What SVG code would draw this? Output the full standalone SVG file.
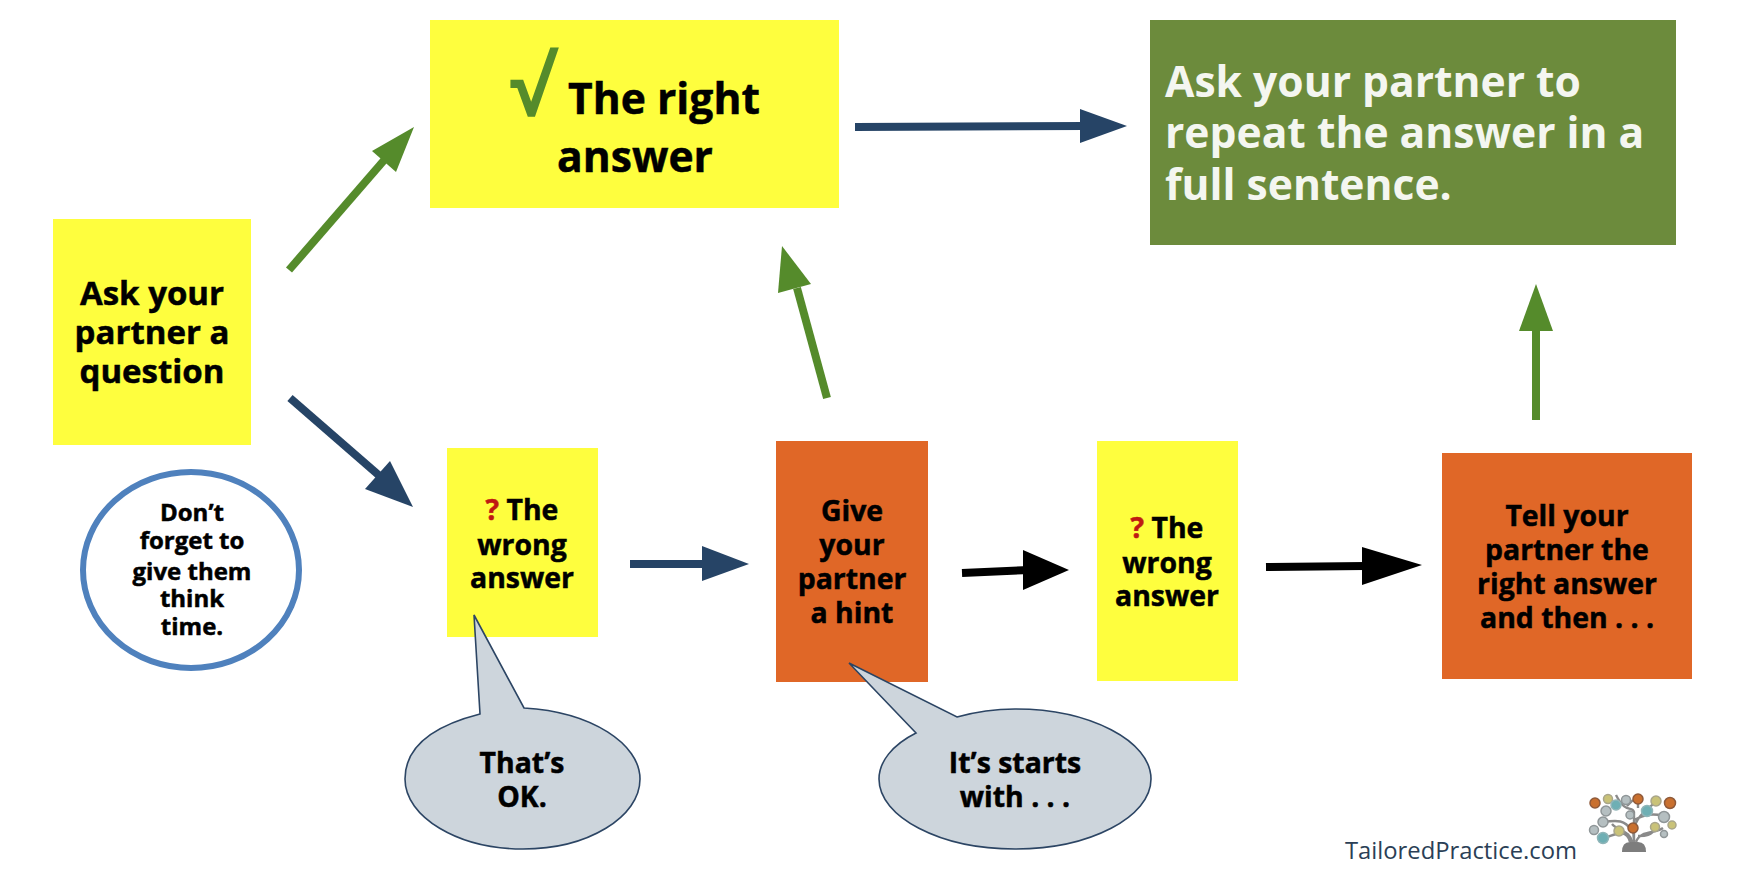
<svg xmlns="http://www.w3.org/2000/svg" width="1753" height="876" viewBox="0 0 1753 876">
<style>
text{font-family:"Open Sans","Noto Sans","DejaVu Sans",sans-serif;font-weight:700;text-anchor:middle;fill:#000}
.y{fill:#fefe3e}.o{fill:#e06727}.b{fill:#cdd5dc;stroke:#2c4564;stroke-width:1.6}
.t,.a,.m,.l{stroke:#000;stroke-width:.5}
.t{font-size:28.4px}.a{font-size:33px}.m{font-size:24px}.l{font-size:42.6px}
.w{font-size:42.6px;fill:#f4f6f0}
.red{fill:#bf1a12;stroke:#bf1a12}
.gl{stroke:#558b2b;stroke-width:8;fill:none}.nl{stroke:#264466;stroke-width:8;fill:none}.kl{stroke:#000;stroke-width:8;fill:none}
.ga{fill:#558b2b}.na{fill:#264466}.ka{fill:#000}
.d{stroke:#8a8a8a;stroke-width:2.4;fill:none}
.c1{fill:#c9702f;stroke:#8f5a3a;stroke-width:1.5}.c2{fill:#c9c278;stroke:#a9a68a;stroke-width:1.5}.c3{fill:#b5bfc1;stroke:#8f9698;stroke-width:1.5}.c4{fill:#6eafb4;stroke:#8fb5b8;stroke-width:1.5}
</style>
<rect width="1753" height="876" fill="#fff"/>
<g id="connectors">
<path class="gl" d="M289 270L386 158"/><polygon class="ga" points="414,127 396,172 372,151"/>
<path class="nl" d="M290 398L382 478"/><polygon class="na" points="413,507 365,489 390,461"/>
<path class="nl" d="M855 127L1085 126"/><polygon class="na" points="1127,126 1080,143 1080,109"/>
<path class="nl" d="M630 564L705 564"/><polygon class="na" points="749,564 702,546 702,581"/>
<path class="kl" d="M962 573L1030 570"/><polygon class="ka" points="1069,570 1023,590 1023,550"/>
<path class="kl" d="M1266 567L1365 566"/><polygon class="ka" points="1422,565 1362,585 1362,547"/>
<path class="gl" d="M827 398L797 288"/><polygon class="ga" points="782,246 811,284 778,293"/>
<path class="gl" d="M1536 420L1536 324"/><polygon class="ga" points="1536,284 1553,331 1519,331"/>
</g>
<g id="ask"><rect class="y" x="53" y="219" width="198" height="226"/>
<text class="a" x="152" y="305">Ask your</text><text class="a" x="152" y="344">partner a</text><text class="a" x="152" y="383">question</text></g>
<g id="right"><rect class="y" x="430" y="20" width="409" height="188"/>
<text x="531" y="116" style="font-size:80px;fill:#558b2b">√</text>
<text class="l" x="664" y="114">The right</text><text class="l" x="635" y="172">answer</text></g>
<g id="repeat"><rect x="1150" y="20" width="526" height="225" fill="#6c8b3c"/>
<text class="w" style="text-anchor:start" x="1165" y="97">Ask your partner to</text>
<text class="w" style="text-anchor:start" x="1165" y="148">repeat the answer in a</text>
<text class="w" style="text-anchor:start" x="1165" y="200">full sentence.</text></g>
<g id="wrong1"><rect class="y" x="447" y="448" width="151" height="189"/>
<text class="t" x="522" y="520"><tspan class="red">?</tspan> The</text><text class="t" x="522" y="555">wrong</text><text class="t" x="522" y="588">answer</text></g>
<g id="hint"><rect class="o" x="776" y="441" width="152" height="241"/>
<text class="t" x="852" y="521">Give</text><text class="t" x="852" y="555">your</text><text class="t" x="852" y="589">partner</text><text class="t" x="852" y="623">a hint</text></g>
<g id="wrong2"><rect class="y" x="1097" y="441" width="141" height="240"/>
<text class="t" x="1167" y="538"><tspan class="red">?</tspan> The</text><text class="t" x="1167" y="573">wrong</text><text class="t" x="1167" y="606">answer</text></g>
<g id="tell"><rect class="o" x="1442" y="453" width="250" height="226"/>
<text class="t" x="1567" y="526">Tell your</text><text class="t" x="1567" y="560">partner the</text><text class="t" x="1567" y="594">right answer</text><text class="t" x="1567" y="628">and then . . .</text></g>
<g id="think"><ellipse cx="191" cy="570" rx="108" ry="98" fill="#fff" stroke="#4f81bd" stroke-width="6"/>
<text class="m" x="192" y="521">Don’t</text><text class="m" x="192" y="549">forget to</text><text class="m" x="192" y="580">give them</text><text class="m" x="192" y="607">think</text><text class="m" x="192" y="635">time.</text></g>
<g id="ok"><path class="b" d="M474 615L480 714C425 728 405 752 405 779C405 817 458 849 523 849C588 849 640 817 640 779C640 744 592 712 524 708Z"/>
<text class="t" x="522" y="773">That’s</text><text class="t" x="522" y="807">OK.</text></g>
<g id="starts"><path class="b" d="M849 663L916 733C892 745 879 762 879 779C879 817 940 849 1015 849C1090 849 1151 817 1151 779C1151 741 1090 709 1015 709C994 709 975 712 957 717Z"/>
<text class="t" x="1015" y="773">It’s starts</text><text class="t" x="1015" y="807">with . . .</text></g>
<g id="brand"><text x="1461" y="859" style="font-size:23.8px;font-weight:400;fill:#2b3f56">TailoredPractice.com</text>
<path d="M1622 852Q1622 842 1630 842H1638Q1646 842 1646 852Z" fill="#7d7d7d"/>
<path class="d" d="M1630 842C1626 825 1610 838 1603 838M1632 842C1630 830 1619 832 1612 824M1634 842L1633 828M1636 842C1640 830 1655 834 1663 828M1634 842V812C1632 805 1626 815 1616 795M1634 830C1636 815 1650 808 1660 798M1634 820C1650 812 1654 815 1664 815M1631 830C1625 820 1618 820 1603 822M1633 800L1627 806M1638 836C1645 836 1652 836 1656 827M1638 795V808"/>
<circle class="c1" cx="1595" cy="803" r="5"/><circle class="c2" cx="1608" cy="799" r="4.5"/><circle class="c3" cx="1606" cy="811" r="5"/><circle class="c4" cx="1616" cy="805" r="5"/><circle class="c3" cx="1626" cy="800" r="4.5"/><circle class="c1" cx="1638" cy="799" r="5"/><circle class="c2" cx="1656" cy="801" r="5"/><circle class="c1" cx="1670" cy="803" r="5.5"/><circle class="c4" cx="1647" cy="811" r="5.5"/><circle class="c3" cx="1630" cy="815" r="4"/><circle class="c3" cx="1664" cy="817" r="5.5"/><circle class="c3" cx="1603" cy="822" r="5"/><circle class="c3" cx="1594" cy="830" r="4.5"/><circle class="c4" cx="1603" cy="838" r="5.5"/><circle class="c2" cx="1619" cy="831" r="5"/><circle class="c1" cx="1633" cy="828" r="5"/><circle class="c2" cx="1655" cy="827" r="4.5"/><circle class="c3" cx="1664" cy="834" r="3.5"/><circle class="c2" cx="1672" cy="825" r="4"/></g>
</svg>
